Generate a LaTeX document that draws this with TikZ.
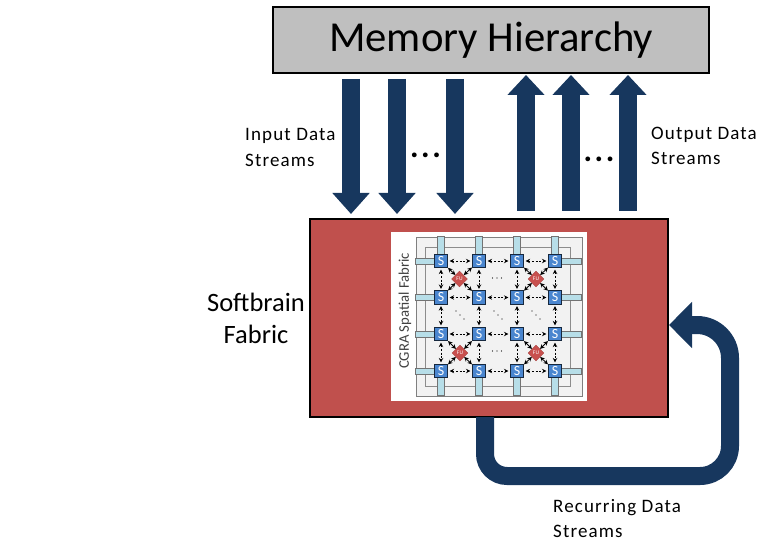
\documentclass[tikz,border=0pt]{standalone}
\usepackage{fontspec}
\setmainfont{Carlito}
\usetikzlibrary{arrows.meta,shapes.geometric}
\definecolor{navy}{HTML}{17375E}
\definecolor{fabricred}{HTML}{C0504D}
\definecolor{memgray}{HTML}{BFBFBF}
\definecolor{stubblue}{HTML}{B7DEE8}
\definecolor{swblue}{HTML}{4A86CF}
\definecolor{fured}{HTML}{C8504E}
\tikzset{
  bigflow/.style={draw=navy,line width=18pt,-{Triangle[length=21pt,width=36pt]}},
  bigflowup/.style={draw=navy,line width=18pt,-{Triangle[length=20pt,width=36pt]}},
  recur/.style={draw=navy,line width=18pt,-{Triangle[length=23pt,width=45pt]}},
  lab/.style={font=\fontsize{19}{25.5}\selectfont\addfontfeature{LetterSpace=6},align=left,anchor=north west,inner sep=0pt},
  dotsl/.style={font=\bfseries\fontsize{32}{32}\selectfont\addfontfeature{LetterSpace=8},inner sep=0pt},
  swnode/.style={draw=black!70!swblue,fill=swblue,line width=.6pt,minimum size=13.5pt,inner sep=0pt,text=white,font=\fontsize{14}{14}\selectfont},
  funode/.style={diamond,draw=fured!85!black,fill=fured,minimum size=16pt,inner sep=0pt,text=white,font=\fontsize{5.5}{6}\selectfont},
  stub/.style={draw=black!55,fill=stubblue,line width=.6pt},
  link/.style={dash pattern=on 2pt off 1.6pt,line width=.8pt,{Stealth[length=4.5pt,width=4.5pt]}-{Stealth[length=4.5pt,width=4.5pt]},shorten <=1.5pt,shorten >=1.5pt},
  diag/.style={line width=.8pt,{Stealth[length=4.5pt,width=4.5pt]}-{Stealth[length=4.5pt,width=4.5pt]}}
}
\begin{document}
\begin{tikzpicture}[x=1pt,y=-1pt]
\useasboundingbox (0,0) rectangle (776,556);
% main boxes
\node[draw=black,fill=memgray,line width=1.8pt,minimum width=436pt,minimum height=66pt,inner sep=0pt,anchor=north west,font=\fontsize{42.7}{42.7}\selectfont] (mem) at (272.2,5.8) {\raisebox{-2pt}{Memory Hierarchy}};
\node[draw=black,fill=fabricred,line width=2.4pt,minimum width=358pt,minimum height=198pt,inner sep=0pt,anchor=north west] (fabric) at (309,217.5) {};
% embedded fabric image
\node[fill=white,minimum width=196pt,minimum height=169pt,inner sep=0pt,anchor=north west] (img) at (391,232) {};
\node[draw=black!50,fill=black!5,line width=1.2pt,minimum width=166pt,minimum height=159pt,inner sep=0pt,anchor=north west] (outer) at (415.5,236.7) {};
\node[draw=black!45,line width=.8pt,minimum width=145pt,minimum height=139pt,inner sep=0pt,anchor=north west] (inner) at (425,246.7) {};
\node[rotate=90,font=\fontsize{14.7}{14.7}\selectfont,text=black!75,inner sep=0pt] (cgra) at (405,311) {CGRA Spatial Fabric};
% stubs
\foreach \x in {441,479,517,555}{
  \draw[stub] (\x-3.5,236.7) rectangle (\x+3.5,256);
  \draw[stub] (\x-3.5,376) rectangle (\x+3.5,395.7);
}
\foreach \y in {261,297.5,334,371}{
  \draw[stub] (415.5,\y-3) rectangle (436,\y+3);
  \draw[stub] (560,\y-3) rectangle (581.5,\y+3);
}
% switches
\foreach \c/\x in {1/441,2/479,3/517,4/555}{
  \foreach \r/\y in {1/261,2/297.5,3/334,4/371}{
    \node[swnode] (s\r\c) at (\x,\y) {S};
  }
}
% function units
\node[funode] (f1) at (459.5,279) {FU};
\node[funode] (f2) at (536,279) {FU};
\node[funode] (f3) at (460,353) {FU};
\node[funode] (f4) at (536,353) {FU};
% links
\foreach \r in {1,2,3,4}{
  \draw[link] (s\r1) -- (s\r2);
  \draw[link] (s\r2) -- (s\r3);
  \draw[link] (s\r3) -- (s\r4);
}
\foreach \c in {1,2,3,4}{
  \draw[link] (s1\c) -- (s2\c);
  \draw[link] (s2\c) -- (s3\c);
  \draw[link] (s3\c) -- (s4\c);
}
\foreach \f/\a/\b/\c/\d in {f1/s11/s12/s21/s22,f2/s13/s14/s23/s24,f3/s31/s32/s41/s42,f4/s33/s34/s43/s44}{
  \draw[diag] (\f) -- (\a);
  \draw[diag] (\f) -- (\b);
  \draw[diag] (\f) -- (\c);
  \draw[diag] (\f) -- (\d);
}
% small dots inside the fabric
\foreach \x in {492.5,497,501.5}{
  \fill[black] (\x,278) circle (.7pt);
  \fill[black] (\x,351) circle (.7pt);
}
\foreach \x in {460,498,536}{
  \foreach \d in {-4,0,4}{
    \fill[black] (\x+\d,315+\d) circle (.7pt);
  }
}
% stream arrows
\coordinate (a1) at (351,79);  \coordinate (b1) at (351,214);
\coordinate (a2) at (397,79);  \coordinate (b2) at (397,214);
\coordinate (a3) at (455,79);  \coordinate (b3) at (455,214);
\coordinate (c1) at (526,211); \coordinate (e1) at (526,75);
\coordinate (c2) at (571,211); \coordinate (e2) at (571,75);
\coordinate (c3) at (628,211); \coordinate (e3) at (628,75);
\draw[bigflow] (a1) -- (b1);
\draw[bigflow] (a2) -- (b2);
\draw[bigflow] (a3) -- (b3);
\draw[bigflowup] (c1) -- (e1);
\draw[bigflowup] (c2) -- (e2);
\draw[bigflowup] (c3) -- (e3);
% recurring loop
\coordinate (r0) at (485,417);
\coordinate (r1) at (485,476);
\coordinate (r2) at (730,476);
\coordinate (r3) at (730,325);
\coordinate (r4) at (669,325);
\draw[recur] (r0) [rounded corners=22pt] -- (r1) [rounded corners=30pt] -- (r2) [rounded corners=33pt] -- (r3) -- (r4);
% labels
\node[lab] (linput) at (245,128.5) {Input Data\\Streams};
\node[lab] (loutput) at (651,126.5) {Output Data\\Streams};
\node[lab] (lrec) at (553,499) {Recurring Data\\Streams};
\node[font=\fontsize{26.5}{32}\selectfont,align=center,inner sep=0pt] (soft) at (256,318) {Softbrain\\Fabric};
\node[dotsl] (dl) at (425.5,155.5) {...};
\node[dotsl] (dr) at (599,159) {...};
\end{tikzpicture}
\end{document}
